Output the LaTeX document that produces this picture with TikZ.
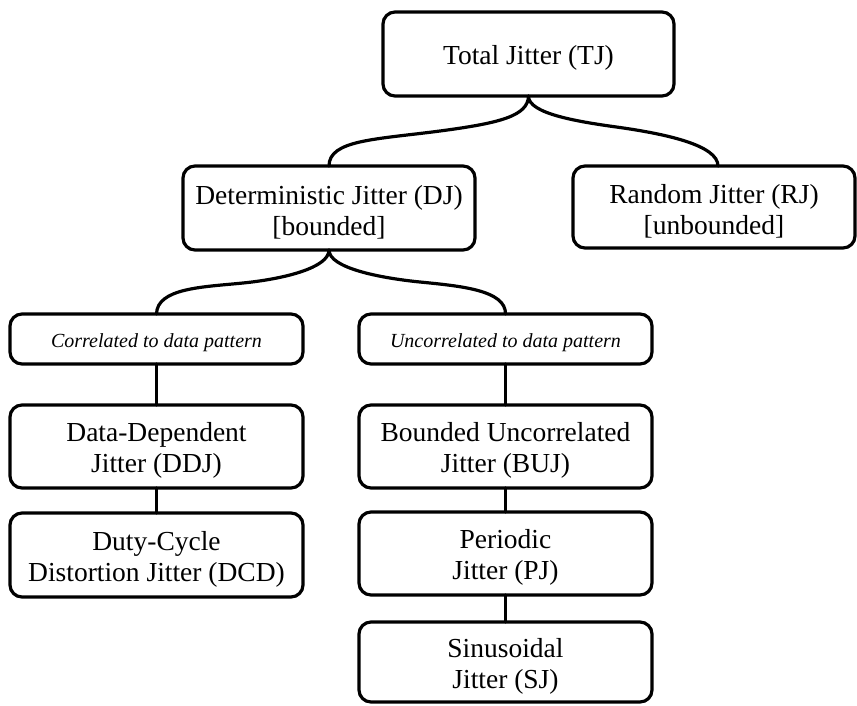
\documentclass[tikz,border=0pt]{standalone}
\usepackage{fontspec}
\setmainfont{Liberation Serif}
\begin{document}
\begin{tikzpicture}[x=1pt,y=-1pt,
  frame/.style={draw, line width=3.2pt, rounded corners=12pt, fill=white,
    inner sep=0pt, outer sep=0pt},
  bigbox/.style={frame, minimum width=292pt, minimum height=84pt},
  tagbox/.style={frame, minimum width=293pt, minimum height=50pt},
  txt/.style={inner sep=0pt, align=center, yshift=-4pt,
    font=\fontsize{27.5}{31}\selectfont},
  tagtxt/.style={txt, font=\fontsize{20}{24}\selectfont\itshape},
  link/.style={line width=3.2pt, line cap=round}]
\useasboundingbox (0,0) rectangle (857,705);

% boxes: top level
\node[bigbox, minimum width=291pt] (tj) at (528.5,54) {};
\node[bigbox] (dj) at (329,208) {};
\node[bigbox, minimum width=282pt, minimum height=82pt] (rj) at (714,207) {};

% boxes: grouping of deterministic jitter
\node[tagbox] (cor) at (156.5,339) {};
\node[tagbox] (unc) at (505.5,339) {};

% boxes: correlated branch
\node[bigbox, minimum width=293pt, minimum height=83pt] (ddj) at (156.5,446.5) {};
\node[bigbox, minimum width=293pt] (dcd) at (156.5,555) {};

% boxes: uncorrelated branch
\node[bigbox, minimum width=293pt, minimum height=83pt] (buj) at (505.5,446.5) {};
\node[bigbox, minimum width=293pt, minimum height=83pt] (pj) at (505.5,553.5) {};
\node[bigbox, minimum width=293pt, minimum height=80pt] (sj) at (505.5,662) {};

% labels
\node[txt] (tjt) at (tj.center) {Total Jitter (TJ)};
\node[txt] (djt) at (dj.center) {Deterministic Jitter (DJ)\\{[bounded]}};
\node[txt] (rjt) at (rj.center) {Random Jitter (RJ)\\{[unbounded]}};
\node[tagtxt] (cort) at (cor.center) {Correlated to data pattern};
\node[tagtxt] (unct) at (unc.center) {Uncorrelated to data pattern};
\node[txt] (ddjt) at (ddj.center) {Data-Dependent\\Jitter (DDJ)};
\node[txt] (dcdt) at (dcd.center) {Duty-Cycle\\Distortion Jitter (DCD)};
\node[txt] (bujt) at (buj.center) {Bounded Uncorrelated\\Jitter (BUJ)};
\node[txt] (pjt) at (pj.center) {Periodic\\Jitter (PJ)};
\node[txt] (sjt) at (sj.center) {Sinusoidal\\Jitter (SJ)};

% brace-like branch connectors
\draw[link] (tj.south) .. controls (528,116) and (500,123) .. (440,131)
  .. controls (375,139.5) and (329,140) .. (dj.north);
\draw[link] (tj.south) .. controls (528,114) and (580,122) .. (620,127.5)
  .. controls (665,134) and (718,145) .. ([xshift=4pt]rj.north);
\draw[link] (dj.south) .. controls (329,268) and (283,279) .. (243,283)
  .. controls (203,287) and (157,288) .. (cor.north);
\draw[link] (dj.south) .. controls (329,268) and (380,278) .. (420,282)
  .. controls (460,286) and (506,290) .. (unc.north);

% straight chain connectors
\draw[link] (cor.south) -- (ddj.north);
\draw[link] (ddj.south) -- (dcd.north);
\draw[link] (unc.south) -- (buj.north);
\draw[link] (buj.south) -- (pj.north);
\draw[link] (pj.south) -- (sj.north);
\end{tikzpicture}
\end{document}
